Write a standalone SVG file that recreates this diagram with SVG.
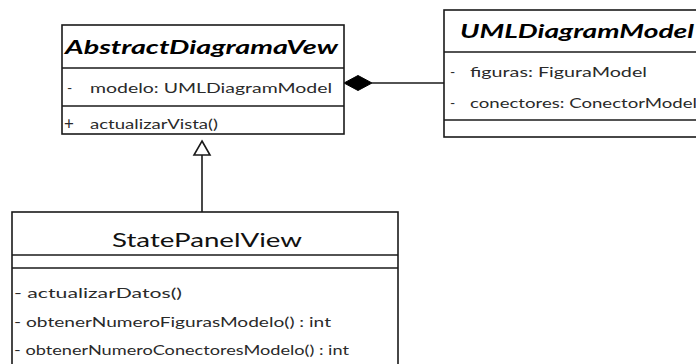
<svg xmlns="http://www.w3.org/2000/svg" width="696" height="364" viewBox="0 0 696 364">
<style>
.box{fill:#fff;stroke:#1a1a1a;stroke-width:1.6}
.ln{stroke:#1a1a1a;stroke-width:1.6;fill:none}
.title{font-family:Lato,"Open Sans",sans-serif;font-size:18px;font-weight:bold;font-style:italic;fill:#000}
.ctitle{font-family:Lato,"Open Sans",sans-serif;font-size:20px;fill:#111}
.attr{font-family:Lato,"Open Sans",sans-serif;font-size:14px;fill:#2a2a2a}
</style>
<g id="connectors">
<line class="ln" x1="372" y1="83" x2="444" y2="83"/>
<polygon points="344,83 358,75.5 372,83 358,90.5" fill="#000" stroke="#000" stroke-width="1"/>
<line class="ln" x1="202" y1="155" x2="202" y2="212"/>
<polygon points="202,141 210,155 194,155" fill="#fff" stroke="#1a1a1a" stroke-width="1.6"/>
</g>
<g id="AbstractDiagramaVew">
<rect class="box" x="62" y="25" width="282" height="109"/>
<line class="ln" x1="62" y1="68" x2="344" y2="68"/>
<line class="ln" x1="62" y1="106" x2="344" y2="106"/>
<text class="title" x="65" y="54" textLength="273" lengthAdjust="spacingAndGlyphs">AbstractDiagramaVew</text>
<text class="attr" x="67" y="93">-</text>
<text class="attr" x="90" y="93" textLength="242" lengthAdjust="spacingAndGlyphs">modelo: UMLDiagramModel</text>
<text class="attr" x="64" y="130" style="font-size:17px">+</text>
<text class="attr" x="90" y="129" textLength="128" lengthAdjust="spacingAndGlyphs">actualizarVista()</text>
</g>
<g id="UMLDiagramModel">
<rect class="box" x="444" y="10" width="260" height="127"/>
<line class="ln" x1="444" y1="52" x2="696" y2="52"/>
<line class="ln" x1="444" y1="120" x2="696" y2="120"/>
<text class="title" x="460" y="38" textLength="234" lengthAdjust="spacingAndGlyphs">UMLDiagramModel</text>
<text class="attr" x="450" y="77">-</text>
<text class="attr" x="470" y="77" textLength="177" lengthAdjust="spacingAndGlyphs">figuras: FiguraModel</text>
<text class="attr" x="450" y="108">-</text>
<text class="attr" x="470" y="108" textLength="227" lengthAdjust="spacingAndGlyphs">conectores: ConectorModel</text>
</g>
<g id="StatePanelView">
<rect class="box" x="12" y="212" width="386" height="170"/>
<line class="ln" x1="12" y1="255" x2="398" y2="255"/>
<line class="ln" x1="12" y1="268" x2="398" y2="268"/>
<text class="ctitle" x="112" y="247" textLength="190" lengthAdjust="spacingAndGlyphs">StatePanelView</text>
<text class="attr" x="14" y="298" textLength="168" lengthAdjust="spacingAndGlyphs">- actualizarDatos()</text>
<text class="attr" x="14" y="327" textLength="317" lengthAdjust="spacingAndGlyphs">- obtenerNumeroFigurasModelo() : int</text>
<text class="attr" x="14" y="355" textLength="335" lengthAdjust="spacingAndGlyphs">- obtenerNumeroConectoresModelo() : int</text>
</g>
</svg>
